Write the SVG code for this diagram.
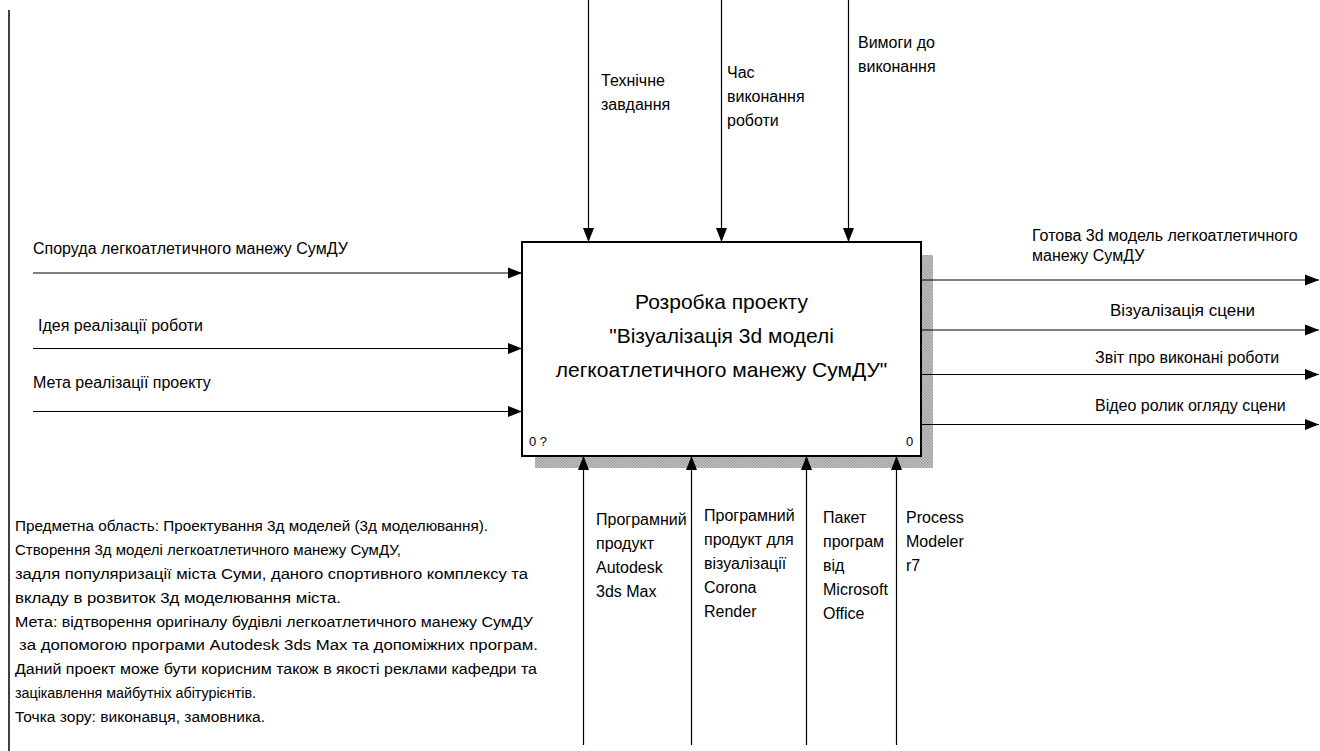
<svg xmlns="http://www.w3.org/2000/svg" width="1320" height="751" viewBox="0 0 1320 751">
<style>
text{font-family:"Liberation Sans",Arial,sans-serif;font-size:16px;fill:#000}
.t{font-size:21px}
.s{font-size:13px}
.n{font-size:15.3px}
.c{stroke:#000;stroke-width:1.2;fill:none}
</style>
<defs>
<marker id="ah" markerUnits="userSpaceOnUse" markerWidth="14" markerHeight="12" refX="14" refY="6" orient="auto">
<path d="M0,0.5 L14,6 L0,11.5 z" fill="#000"/>
</marker>
<pattern id="hatch" width="3" height="3" patternUnits="userSpaceOnUse">
<rect width="3" height="3" fill="#c8c8c8"/>
<rect width="1.5" height="1.5" fill="#9a9a9a"/>
<rect x="1.5" y="1.5" width="1.5" height="1.5" fill="#9a9a9a"/>
</pattern>
</defs>
<rect width="1320" height="751" fill="#fff"/>
<line x1="9" y1="10" x2="9" y2="751" stroke="#000" stroke-width="1.5"/>

<g id="node-A0">
<rect x="535" y="255" width="398" height="213" fill="url(#hatch)"/>
<rect x="522" y="242" width="399" height="214" fill="#fff" stroke="#000" stroke-width="2"/>
<text class="t" x="721.5" y="309" text-anchor="middle">Розробка проекту</text>
<text class="t" x="721.5" y="343" text-anchor="middle">"Візуалізація 3d моделі</text>
<text class="t" x="721.5" y="377" text-anchor="middle">легкоатлетичного манежу СумДУ"</text>
<text class="s" x="529" y="446">0 ?</text>
<text class="s" x="906" y="446">0</text>
</g>

<g id="connectors">
<line class="c" x1="588.5" y1="0" x2="588.5" y2="242" marker-end="url(#ah)"/>
<line class="c" x1="721.5" y1="0" x2="721.5" y2="242" marker-end="url(#ah)"/>
<line class="c" x1="848.5" y1="0" x2="848.5" y2="242" marker-end="url(#ah)"/>
<line class="c" x1="33" y1="273" x2="522" y2="273" marker-end="url(#ah)"/>
<line class="c" x1="33" y1="348.5" x2="522" y2="348.5" marker-end="url(#ah)"/>
<line class="c" x1="33" y1="411.5" x2="522" y2="411.5" marker-end="url(#ah)"/>
<line class="c" x1="921" y1="280" x2="1319" y2="280" marker-end="url(#ah)"/>
<line class="c" x1="921" y1="330" x2="1319" y2="330" marker-end="url(#ah)"/>
<line class="c" x1="921" y1="374.5" x2="1319" y2="374.5" marker-end="url(#ah)"/>
<line class="c" x1="921" y1="424.5" x2="1319" y2="424.5" marker-end="url(#ah)"/>
<line class="c" x1="583.5" y1="745" x2="583.5" y2="456" marker-end="url(#ah)"/>
<line class="c" x1="691.5" y1="745" x2="691.5" y2="456" marker-end="url(#ah)"/>
<line class="c" x1="806.5" y1="745" x2="806.5" y2="456" marker-end="url(#ah)"/>
<line class="c" x1="896.5" y1="745" x2="896.5" y2="456" marker-end="url(#ah)"/>
</g>

<g id="label-controls">
<text x="601" y="86">Технічне</text>
<text x="601" y="110">завдання</text>
<text x="727" y="78">Час</text>
<text x="727" y="102">виконання</text>
<text x="727" y="126">роботи</text>
<text x="858" y="48">Вимоги до</text>
<text x="858" y="72">виконання</text>
</g>

<g id="label-inputs">
<text x="33" y="254">Споруда легкоатлетичного манежу СумДУ</text>
<text x="38" y="331">Ідея реалізації роботи</text>
<text x="33" y="388">Мета реалізації проекту</text>
</g>

<g id="label-outputs">
<text x="1032" y="241">Готова 3d модель легкоатлетичного</text>
<text x="1032" y="261">манежу СумДУ</text>
<text x="1110" y="316" textLength="145" lengthAdjust="spacingAndGlyphs">Візуалізація сцени</text>
<text x="1095" y="363">Звіт про виконані роботи</text>
<text x="1095" y="411">Відео ролик огляду сцени</text>
</g>

<g id="label-mechanisms">
<text x="596" y="525">Програмний</text>
<text x="596" y="549">продукт</text>
<text x="596" y="573">Autodesk</text>
<text x="596" y="597">3ds Max</text>
<text x="704" y="521">Програмний</text>
<text x="704" y="545">продукт для</text>
<text x="704" y="569">візуалізації</text>
<text x="704" y="593">Corona</text>
<text x="704" y="617">Render</text>
<text x="823" y="523">Пакет</text>
<text x="823" y="547">програм</text>
<text x="823" y="571">від</text>
<text x="823" y="595">Microsoft</text>
<text x="823" y="619">Office</text>
<text x="906" y="523">Process</text>
<text x="906" y="547">Modeler</text>
<text x="906" y="571">r7</text>
</g>

<g id="note">
<text class="n" x="15" y="531" textLength="473" lengthAdjust="spacingAndGlyphs">Предметна область: Проектування 3д моделей (3д моделювання).</text>
<text class="n" x="15" y="555" textLength="386" lengthAdjust="spacingAndGlyphs">Створення 3д моделі легкоатлетичного манежу СумДУ,</text>
<text class="n" x="15" y="579" textLength="513" lengthAdjust="spacingAndGlyphs">задля популяризації міста Суми, даного спортивного комплексу та</text>
<text class="n" x="15" y="603" textLength="326" lengthAdjust="spacingAndGlyphs">вкладу в розвиток 3д моделювання міста.</text>
<text class="n" x="15" y="627" textLength="518" lengthAdjust="spacingAndGlyphs">Мета: відтворення оригіналу будівлі легкоатлетичного манежу СумДУ</text>
<text class="n" x="19" y="650" textLength="519" lengthAdjust="spacingAndGlyphs">за допомогою програми Autodesk 3ds Max та допоміжних програм.</text>
<text class="n" x="15" y="674" textLength="522" lengthAdjust="spacingAndGlyphs">Даний проект може бути корисним також в якості реклами кафедри та</text>
<text class="n" x="15" y="698" textLength="241" lengthAdjust="spacingAndGlyphs">зацікавлення майбутніх абітурієнтів.</text>
<text class="n" x="15" y="722" textLength="250" lengthAdjust="spacingAndGlyphs">Точка зору: виконавця, замовника.</text>
</g>
</svg>
